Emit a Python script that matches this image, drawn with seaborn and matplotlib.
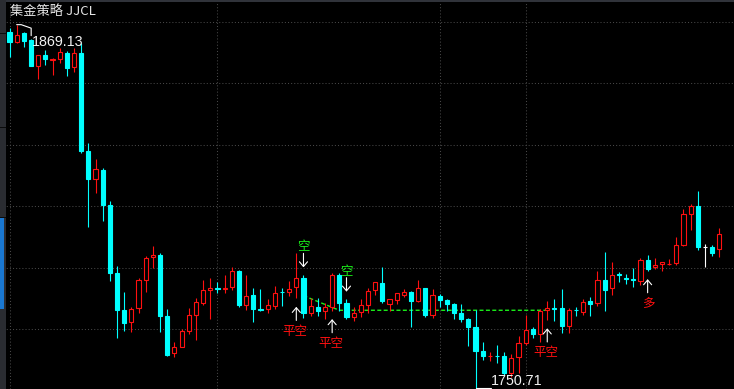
import numpy as np
import matplotlib
matplotlib.use("Agg")
import matplotlib.pyplot as plt
import matplotlib.transforms as mtransforms
from matplotlib.patches import Rectangle
import seaborn as sns

# ---------------- data ----------------
title = "集金策略 JJCL"

opens = [1866.85, 1863.6, 1866.3, 1864.15, 1855.8, 1859.3, 1857.8, 1858.0, 1860.0, 1855.2,
         1860.0, 1828.05, 1819.0, 1821.9, 1810.5, 1788.5, 1776.3, 1772.5, 1777.1, 1786.1,
         1793.5, 1794.2, 1774.4, 1762.3, 1764.4, 1769.6, 1774.7, 1778.7, 1782.8, 1783.5,
         1783.3, 1783.9, 1789.0, 1778.0, 1781.2, 1776.7, 1776.7, 1777.6, 1782.35, 1782.2,
         1783.7, 1786.65, 1775.5, 1777.2, 1776.1, 1777.4, 1787.7, 1778.7, 1774.2, 1775.6,
         1778.0, 1782.8, 1785.2, 1778.3, 1779.6, 1781.2, 1782.3, 1779.4, 1783.4, 1774.7,
         1780.9, 1779.6, 1778.3, 1775.3, 1773.3, 1770.9, 1763.0, 1761.3, 1761.5, 1761.4,
         1755.8, 1761.2, 1765.7, 1770.2, 1768.4, 1776.3, 1777.0, 1776.9, 1771.2, 1776.4,
         1775.8, 1779.2, 1778.5, 1786.1, 1783.4, 1788.05, 1786.75, 1786.4, 1785.9, 1792.6,
         1790.2, 1791.2, 1791.2, 1791.7, 1797.5, 1807.6, 1810.2, 1796.7, 1796.7, 1796.1]

highs = [1867.95, 1869.13, 1866.85, 1864.4, 1859.3, 1860.9, 1858.45, 1861.5, 1860.7, 1861.5,
         1863.2, 1830.75, 1825.45, 1822.4, 1811.8, 1790.65, 1782.2, 1777.4, 1786.85, 1793.9,
         1797.2, 1794.8, 1776.7, 1765.8, 1770.1, 1776.9, 1780.1, 1786.1, 1786.85, 1785.5,
         1787.7, 1790.2, 1789.35, 1787.7, 1783.4, 1783.2, 1779.8, 1784.1, 1783.4, 1785.8,
         1795.0, 1787.7, 1780.1, 1780.1, 1778.5, 1788.3, 1788.3, 1779.8, 1777.2, 1779.8,
         1783.4, 1785.5, 1790.4, 1780.0, 1782.0, 1783.1, 1782.5, 1786.1, 1783.6, 1783.1,
         1781.45, 1779.8, 1778.5, 1778.3, 1773.6, 1776.3, 1765.8, 1762.8, 1765.0, 1762.8,
         1762.0, 1767.9, 1774.7, 1770.7, 1776.6, 1779.4, 1779.8, 1783.1, 1776.9, 1777.4,
         1779.8, 1780.5, 1789.0, 1795.3, 1791.9, 1788.8, 1788.05, 1790.1, 1793.15, 1794.2,
         1793.15, 1792.0, 1792.9, 1800.0, 1809.1, 1810.8, 1815.0, 1797.8, 1797.5, 1802.9]

lows = [1858.5, 1863.1, 1862.0, 1855.6, 1851.5, 1856.0, 1852.8, 1856.8, 1852.5, 1853.8,
        1827.3, 1803.4, 1814.5, 1805.3, 1785.9, 1767.3, 1769.5, 1769.3, 1775.3, 1782.3,
        1790.1, 1769.3, 1761.5, 1761.2, 1764.2, 1768.5, 1766.6, 1778.0, 1773.3, 1782.0,
        1781.8, 1782.8, 1777.4, 1776.3, 1772.5, 1776.1, 1775.3, 1776.6, 1777.6, 1780.9,
        1780.1, 1773.6, 1774.4, 1774.4, 1773.3, 1776.1, 1776.1, 1773.3, 1772.9, 1774.0,
        1775.3, 1781.2, 1778.5, 1776.0, 1778.3, 1780.5, 1770.9, 1779.0, 1774.0, 1773.6,
        1777.4, 1776.1, 1773.3, 1772.5, 1764.7, 1750.71, 1760.1, 1759.85, 1759.2, 1755.2,
        1754.7, 1755.8, 1765.0, 1767.1, 1766.0, 1773.1, 1772.9, 1768.8, 1769.0, 1774.4,
        1774.7, 1774.4, 1777.7, 1776.1, 1781.2, 1785.55, 1784.8, 1783.9, 1784.5, 1789.1,
        1789.7, 1789.0, 1791.1, 1791.0, 1797.3, 1802.4, 1795.9, 1790.4, 1793.9, 1793.5]

closes = [1863.6, 1865.8, 1863.9, 1855.8, 1859.3, 1858.0, 1858.1, 1860.2, 1854.95, 1859.9,
          1828.15, 1819.0, 1822.1, 1810.5, 1788.5, 1776.3, 1772.2, 1776.7, 1786.1, 1793.15,
          1794.2, 1774.5, 1761.7, 1764.2, 1769.5, 1774.7, 1779.0, 1782.8, 1783.4, 1783.3,
          1783.5, 1789.0, 1778.0, 1780.9, 1776.7, 1776.4, 1778.0, 1782.0, 1782.2, 1783.1,
          1786.65, 1775.5, 1777.6, 1776.1, 1777.2, 1787.7, 1778.7, 1774.2, 1775.5, 1778.0,
          1782.5, 1785.35, 1779.4, 1779.9, 1781.8, 1782.3, 1779.4, 1783.4, 1774.7, 1781.2,
          1779.6, 1778.3, 1775.5, 1773.3, 1770.9, 1763.1, 1761.4, 1761.5, 1761.3, 1755.8,
          1760.6, 1765.5, 1769.8, 1768.5, 1776.0, 1776.9, 1776.8, 1771.2, 1776.3, 1776.2,
          1779.0, 1778.3, 1786.1, 1782.8, 1787.6, 1787.85, 1786.55, 1786.2, 1792.6, 1789.7,
          1791.0, 1791.9, 1791.4, 1797.5, 1807.6, 1810.2, 1796.9, 1796.7, 1794.8, 1801.0]

grid_levels = [1770, 1790, 1810, 1830, 1850, 1870]
session_starts = [0, 29, 60, 72]

stop_idx = [41, 46, 75]
stop_val = [1781.0, 1776.25, 1776.25]

signal_idx = [40, 41, 45, 47, 75, 89]
signal_txt = ["平空", "空", "平空", "空", "平空", "多"]

# ---------------- style ----------------
UP = "#ff1010"
DOWN = "#00ffff"
FLAT = "#ffffff"
GREEN = "#19f019"
GRID = "#474747"

sns.set_theme(style="dark", rc={"axes.facecolor": "black",
                                "figure.facecolor": "black",
                                "savefig.facecolor": "black"})
plt.rcParams["font.family"] = ["Noto Sans CJK SC", "DejaVu Sans"]

W, H = 734, 389
fig = plt.figure(figsize=(W / 100, H / 100), dpi=100, facecolor="black")
ax = fig.add_axes([0, 0, 1, 1])
ax.set_facecolor("black")

o = np.array(opens); h = np.array(highs); l = np.array(lows); c = np.array(closes)
n = len(o)
x = np.arange(n)
cols = np.where(c > o, UP, np.where(c < o, DOWN, FLAT))

# grid
for g in grid_levels:
    ax.axhline(g, color=GRID, lw=0.75, ls=(0, (1, 2)), zorder=0.5)
for s in session_starts:
    ax.axvline(s, color=GRID, lw=0.75, ls=(0, (1, 2)), zorder=0.5)

# trailing stop line (seaborn)
sns.lineplot(x=stop_idx, y=stop_val, ax=ax, color=GREEN, lw=1.0,
             linestyle=(0, (2.9, 1.7)), zorder=1.5, legend=False)

# candles
ax.vlines(x, l, h, colors=cols, lw=0.8, zorder=2)
bw = 0.58
for i in range(n):
    bottom = min(o[i], c[i])
    height = abs(c[i] - o[i])
    face = "black" if c[i] > o[i] else cols[i]
    ax.add_patch(Rectangle((i - bw / 2, bottom), bw, height, facecolor=face,
                           edgecolor=cols[i], lw=0.8, zorder=3))

# signals
arrow_style = "->,head_length=0.34,head_width=0.29"
for i, t in zip(signal_idx, signal_txt):
    if t == "空":
        anchor = (i, h[i])
        ax.annotate("", xy=anchor, xytext=(0, 21.7), textcoords="offset pixels",
                    arrowprops=dict(arrowstyle=arrow_style, color="white", lw=0.8,
                                    shrinkA=0, shrinkB=7.7 * 0.72, mutation_scale=10),
                    zorder=5)
        ax.annotate(t, xy=anchor, xytext=(0, 28), textcoords="offset pixels",
                    ha="center", va="center", color=GREEN, fontsize=9, zorder=5)
    else:
        anchor = (i, l[i])
        ax.annotate("", xy=anchor, xytext=(0, -22), textcoords="offset pixels",
                    arrowprops=dict(arrowstyle=arrow_style, color="white", lw=0.8,
                                    shrinkA=0, shrinkB=8.4 * 0.72, mutation_scale=10),
                    zorder=5)
        ax.annotate(t, xy=anchor, xytext=(-1.5 if len(t) > 1 else 0.5, -33),
                    textcoords="offset pixels", ha="center", va="center",
                    color=UP, fontsize=9, zorder=5)

# extreme labels
imax = int(np.argmax(h)); imin = int(np.argmin(l))
tr_max = fig.dpi_scale_trans + mtransforms.ScaledTranslation(imax, h[imax], ax.transData)
lead_max = np.array([(0, 0), (4.5, 0), (14.5, -3.5), (14.5, -11)]) / 100.0
ax.add_line(plt.Line2D(lead_max[:, 0], lead_max[:, 1], transform=tr_max,
                       color="white", lw=0.8, zorder=6, clip_on=False))
ax.annotate(f"{h[imax]:.2f}", xy=(imax, h[imax]), xytext=(15.6, -21),
            textcoords="offset pixels", ha="left", va="baseline", color="#f2f2f2",
            fontsize=10.3, family="Liberation Sans", zorder=7)

tr_min = fig.dpi_scale_trans + mtransforms.ScaledTranslation(imin, l[imin], ax.transData)
lead_min = np.array([(0, 0.5), (15, 0.5)]) / 100.0
ax.add_line(plt.Line2D(lead_min[:, 0], lead_min[:, 1], transform=tr_min,
                       color="white", lw=0.8, zorder=6, clip_on=False))
ax.annotate(f"{l[imin]:.2f}", xy=(imin, l[imin]), xytext=(15.4, 3.8),
            textcoords="offset pixels", ha="left", va="baseline", color="#f2f2f2",
            fontsize=10.3, family="Liberation Sans", zorder=7)

# axes cosmetics
STEP = 7.17
X0 = 9.5
ax.set_xlim(-X0 / STEP, (W - X0) / STEP)
ax.set_ylim(1750.65, 1877.15)
ax.set_xticks([]); ax.set_yticks([])
ax.set_xlabel(""); ax.set_ylabel("")
ax.grid(False)
for sp in ax.spines.values():
    sp.set_visible(False)

# title
fig.text(10 / W, 1 - 11.2 / H, title, ha="left", va="center", color="#e6e6e6",
         fontsize=9.5)

# panel decorations: top border and left strip
fig.add_artist(Rectangle((0, 1 - 2 / H), 1, 2 / H, transform=fig.transFigure,
                         facecolor="#30333a", edgecolor="none", zorder=10))
fig.add_artist(Rectangle((0, 0), 6 / W, 1, transform=fig.transFigure,
                         facecolor="#2a2c31", edgecolor="none", zorder=10))
fig.add_artist(Rectangle((0, 1 - 309 / H), 4 / W, 91 / H, transform=fig.transFigure,
                         facecolor="#1a78d2", edgecolor="none", zorder=11))
for yy in (33, 127, 217):
    fig.add_artist(Rectangle((0, 1 - (yy + 1) / H), 6 / W, 1.3 / H,
                             transform=fig.transFigure, facecolor="#0a0a0a",
                             edgecolor="none", zorder=11))

fig.savefig("out.png", dpi=100, facecolor="black")
